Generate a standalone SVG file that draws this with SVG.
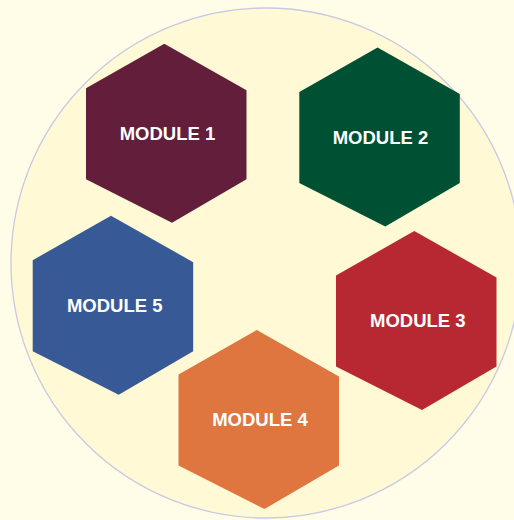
<svg xmlns="http://www.w3.org/2000/svg" width="514" height="520" viewBox="0 0 514 520">
<style>
.lbl{font-family:"Liberation Sans",Arial,sans-serif;font-weight:bold;font-size:18.5px;fill:#ffffff;text-anchor:middle}
</style>
<defs>
<polygon id="hex" points="78.3,0 160.5,46.5 160.5,135.5 86,179 0,135.5 0,44.5"/>
</defs>
<rect width="514" height="520" fill="#fffde7"/>
<circle cx="266" cy="263" r="255" fill="#fffad5" stroke="#c9c9e3" stroke-width="1.3"/>
<g id="connectors"/>
<g id="module1">
<use href="#hex" x="86" y="43.7" fill="#621e3a"/>
<text class="lbl" x="167.5" y="140">MODULE 1</text>
</g>
<g id="module2">
<use href="#hex" x="299.3" y="47.5" fill="#005034"/>
<text class="lbl" x="380.5" y="144">MODULE 2</text>
</g>
<g id="module3">
<use href="#hex" x="336" y="231" fill="#b82832"/>
<text class="lbl" x="417.8" y="327.3">MODULE 3</text>
</g>
<g id="module4">
<use href="#hex" x="178.5" y="330" fill="#df7640"/>
<text class="lbl" x="260" y="426">MODULE 4</text>
</g>
<g id="module5">
<use href="#hex" x="32.7" y="215.7" fill="#375a96"/>
<text class="lbl" x="114.7" y="311.7">MODULE 5</text>
</g>
</svg>
